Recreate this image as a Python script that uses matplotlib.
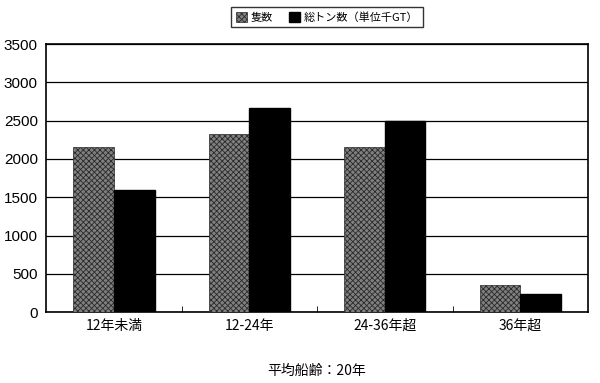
import matplotlib
matplotlib.use("Agg")
import matplotlib.pyplot as plt
import numpy as np

plt.rcParams['font.family'] = ['Noto Sans CJK JP', 'DejaVu Sans']
plt.rcParams['hatch.linewidth'] = 0.6

categories = ["12年未満", "12-24年", "24-36年超", "36年超"]
ships = [2150, 2330, 2150, 360]
tonnage = [1600, 2660, 2490, 240]
yticks = [0, 500, 1000, 1500, 2000, 2500, 3000, 3500]

fig = plt.figure(figsize=(6, 3.83), dpi=100)
ax = fig.add_axes([0.077, 0.185, 0.903, 0.70])

x = np.arange(len(categories))
w = 0.3
ax.bar(x - w / 2, ships, w, facecolor="#808080", edgecolor="#2a2a2a",
       hatch="xxxxxx", linewidth=0.5, label="隻数", zorder=3)
ax.bar(x + w / 2, tonnage, w, facecolor="black", edgecolor="black",
       label="総トン数（単位千GT）", zorder=3)

ax.set_xlim(-0.5, len(categories) - 0.5)
ax.set_ylim(0, 3500)
ax.set_yticks(yticks)
ax.set_yticklabels([str(v) for v in yticks], family=["Liberation Sans"])
ax.yaxis.grid(True, color="black", linewidth=0.9)
ax.tick_params(axis="y", length=0, labelsize=11, pad=6)
ax.set_xticks(x)
ax.set_xticklabels(categories, fontsize=10)
ax.tick_params(axis="x", length=0, pad=5)
# small tick marks between groups
ax.set_xticks(x[:-1] + 0.5, minor=True)
ax.tick_params(axis="x", which="minor", direction="in", length=4)
for s in ax.spines.values():
    s.set_linewidth(1.2)

ax.set_xlabel("平均船齢：20年", fontsize=10, labelpad=22)

fig.legend(loc="upper center", bbox_to_anchor=(0.545, 0.995), ncol=2,
           fontsize=8, frameon=True, fancybox=False, edgecolor="black",
           handlelength=1.0, handleheight=1.0, handletextpad=0.3,
           columnspacing=1.5, borderpad=0.4)

fig.savefig("out.png", dpi=100)
